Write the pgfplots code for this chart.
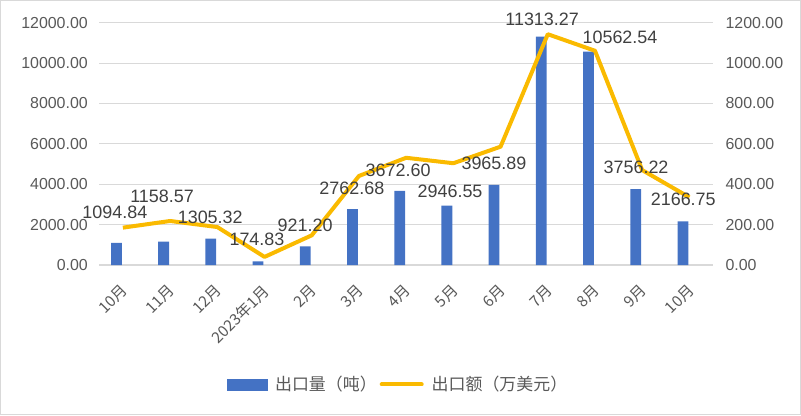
\documentclass[border=0pt]{standalone}
\usepackage{pgfplots}
\pgfplotsset{compat=1.18}
\usepackage{pgfplotstable}
\usepackage{fontspec}
\setmainfont{Liberation Sans}
\newfontfamily\cjk{Noto Sans CJK SC}
\definecolor{barblue}{HTML}{4472C4}
\definecolor{linegold}{HTML}{FABA00}
\definecolor{gridgray}{HTML}{D9D9D9}
\definecolor{ticktext}{HTML}{595959}
\definecolor{labeltext}{HTML}{404040}

\pgfplotstableread{
x vol val
0 1094.84 185
1 1158.57 218
2 1305.32 188
3 174.83 40
4 921.20 147
5 2762.68 441
6 3672.60 531
7 2946.55 504
8 3965.89 586
9 11313.27 1143
10 10562.54 1061
11 3756.22 470
12 2166.75 335
}\datatab

\pgfplotstableread{
x y lab
-0.17 2625 1094.84
0.83 3417 1158.57
1.85 2377 1305.32
2.84 1288 174.83
3.86 1981 921.20
4.85 3814 2762.68
5.83 4705 3672.60
6.93 3665 2946.55
7.86 5052 3965.89
8.88 12184 11313.27
10.53 11293 10562.54
10.87 4854 3756.22
11.87 3269 2166.75
}\labtab

\pgfplotsset{
  common/.style={
    at={(99.3bp,150bp)}, anchor=south west,
    width=613.7bp, height=242.3bp, scale only axis,
    xmin=-0.5, xmax=12.5,
    major tick length=0pt,
    scaled y ticks=false,
    /pgf/number format/.cd, fixed, fixed zerofill, precision=2, 1000 sep={}, assume math mode=true,
  },
}

\begin{document}
\begin{tikzpicture}[x=1bp,y=1bp]
\draw[gridgray, line width=1.5bp] (0.75,0.75) rectangle (800.25,414.25);

% left axis with bars
\begin{axis}[common,
  ymin=0, ymax=12000, ytick={0,2000,...,12000},
  ymajorgrids, grid style={gridgray, line width=1bp},
  axis x line*=bottom, axis y line*=left,
  x axis line style={gridgray, line width=1.2bp},
  y axis line style={draw=none},
  xtick={0,...,12},
  xticklabels={10月,11月,12月,2023年1月,2月,3月,4月,5月,6月,7月,8月,9月,10月},
  xticklabel style={font=\cjk\fontsize{15.5}{15.5}\selectfont, text=ticktext, yshift=-18bp, xshift=-3bp, rotate=45, anchor=north east, inner sep=0pt},
  yticklabel style={font=\fontsize{16}{16}\selectfont, text=ticktext, xshift=-8bp},
]
\addplot[ybar, bar width=10.8bp, bar shift=-6.5bp, fill=barblue, draw=none] table[x=x,y=vol]{\datatab};
\end{axis}

% right axis with line
\begin{axis}[common,
  ymin=0, ymax=1200, ytick={0,200,...,1200},
  axis x line=none, axis y line*=right,
  y axis line style={draw=none},
  yticklabel style={font=\fontsize{16}{16}\selectfont, text=ticktext, xshift=9bp},
  clip=false,
]
\addplot[linegold, line width=4bp, line join=round, mark=none] table[x=x,y=val]{\datatab};
\end{axis}

% data labels and legend
\begin{axis}[common,
  ymin=0, ymax=12000, hide axis, clip=false,
  legend style={at={(0.485,-0.493)}, anchor=center, draw=none, fill=none,
    font=\cjk\fontsize{17}{17}\selectfont, text=ticktext,
    nodes={inner sep=0pt},
    /tikz/every odd column/.append style={column sep=8bp},
    /tikz/every even column/.append style={column sep=3bp}},
  legend columns=2,
]
\addplot[forget plot, draw=none, mark=none, nodes near coords, point meta=explicit symbolic,
  nodes near coords style={anchor=center, inner sep=0pt, font=\fontsize{18}{18}\selectfont, text=labeltext}]
  table[x=x, y=y, meta=lab]{\labtab};
\addlegendimage{legend image code/.code={\fill[barblue] (0bp,-5.5bp) rectangle (40bp,5.5bp);}}
\addlegendentry{出口量（吨）}
\addlegendimage{legend image code/.code={\draw[linegold, line width=4bp, line cap=round] (2bp,0bp) -- (42bp,0bp);}}
\addlegendentry{出口额（万美元）}
\end{axis}
\end{tikzpicture}
\end{document}
